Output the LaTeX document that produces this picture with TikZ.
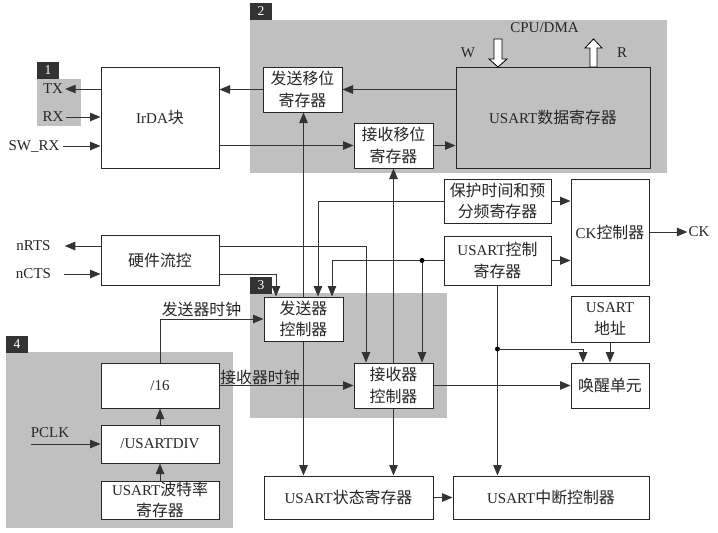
\documentclass[tikz,border=0pt]{standalone}
\usepackage{fontspec}
\setmainfont{Liberation Serif}
\newfontfamily\cjk[Scale=1.06]{Noto Sans CJK SC}
\usetikzlibrary{arrows.meta}
\newcommand\zh[1]{{\cjk #1}}
\definecolor{grayzone}{HTML}{C0C0C0}
\definecolor{tagdark}{HTML}{333333}
\begin{document}
\begin{tikzpicture}[x=1pt,y=-1pt,
  box/.style={draw=black!85, line width=1pt, fill=white, inner sep=0pt, align=center,
    font=\fontsize{15}{21.5}\selectfont, text=black!85},
  arr/.style={-{Triangle[length=10.5pt,width=8.5pt]}, line width=0.9pt, draw=black!80},
  tagbox/.style={fill=tagdark, text=white, inner sep=0pt, minimum width=22pt, minimum height=17pt,
    font=\fontsize{13.5}{13.5}\selectfont},
  lbl/.style={font=\fontsize{15}{16}\selectfont, inner sep=0pt, text=black!85}]
\useasboundingbox (0,0) rectangle (718,533);
\fill[white] (0,0) rectangle (718,533);
% gray zones
\fill[grayzone] (37,79) rectangle (81,126);
\fill[grayzone] (250,20) rectangle (667,173);
\fill[grayzone] (250,293) rectangle (447,418);
\fill[grayzone] (6,352) rectangle (233,528);
\node[tagbox] (t1) at (48,70.5) {1};
\node[tagbox] (t2) at (261,11.5) {2};
\node[tagbox] (t3) at (261,285) {3};
\node[tagbox] (t4) at (17,344) {4};
% boxes
\node[box, minimum width=118, minimum height=101] (irda) at (160,117.5) {IrDA\zh{块}};
\node[box, minimum width=79, minimum height=45] (txs) at (302.5,89.5) {\zh{发送移位}\\\zh{寄存器}};
\node[box, minimum width=79, minimum height=45] (rxs) at (393.5,145.5) {\zh{接收移位}\\\zh{寄存器}};
\node[box, fill=grayzone, minimum width=194, minimum height=101] (dr) at (553,117.5) {USART\zh{数据寄存器}};
\node[box, minimum width=107, minimum height=44] (gt) at (497.5,201) {\zh{保护时间和预}\\\zh{分频寄存器}};
\node[box, minimum width=107, minimum height=49] (cr) at (497.5,260.5) {USART\zh{控制}\\\zh{寄存器}};
\node[box, minimum width=78, minimum height=106] (ck) at (610,232) {CK\zh{控制器}};
\node[box, minimum width=118, minimum height=50] (hw) at (160,260) {\zh{硬件流控}};
\node[box, minimum width=79, minimum height=44] (tc) at (303.5,319) {\zh{发送器}\\\zh{控制器}};
\node[box, minimum width=79, minimum height=45] (rc) at (393.5,385.5) {\zh{接收器}\\\zh{控制器}};
\node[box, minimum width=78, minimum height=46] (addr) at (610,319) {USART\\\zh{地址}};
\node[box, minimum width=78, minimum height=45] (wk) at (610,385.5) {\zh{唤醒单元}};
\node[box, minimum width=118, minimum height=45] (d16) at (160,385.5) {/16};
\node[box, minimum width=118, minimum height=38] (div) at (160,444) {/USARTDIV};
\node[box, minimum width=118, minimum height=38] (brr) at (160,500) {USART\zh{波特率}\\\zh{寄存器}};
\node[box, minimum width=169, minimum height=43] (sr) at (348.5,497.5) {USART\zh{状态寄存器}};
\node[box, minimum width=196, minimum height=43] (ic) at (551,497.5) {USART\zh{中断控制器}};
% free labels
\node[lbl] (tx) at (53,89) {TX};
\node[lbl] (rx) at (53,117) {RX};
\node[lbl] (swrx) at (34,146) {SW\_RX};
\node[lbl] (nrts) at (33.5,246) {nRTS};
\node[lbl] (ncts) at (33.5,274) {nCTS};
\node[lbl] (pclk) at (50,433) {PCLK};
\node[lbl] (cpu) at (544.5,28) {CPU/DMA};
\node[lbl] (wlbl) at (468,53) {W};
\node[lbl] (rlbl) at (622,53) {R};
\node[lbl] (ckout) at (699,232) {CK};
\node[lbl] (txclk) at (201.5,309) {\zh{发送器时钟}};
\node[lbl] (rxclk) at (260,377) {\zh{接收器时钟}};
% hollow arrows
\draw[fill=white, line width=0.8pt] (494,39) -- (502,39) -- (502,59) -- (507,59) -- (498,67) -- (489,59) -- (494,59) -- cycle;
\draw[fill=white, line width=0.8pt] (590,67) -- (590,48) -- (585,48) -- (593.5,39) -- (602,48) -- (597,48) -- (597,67) -- cycle;
% connectors
\draw[arr] (dr.west |- txs.east) -- (txs.east);
\draw[arr] (txs.west) -- (irda.east |- txs.west);
\draw[arr] (irda.west |- tx.east) -- ([xshift=2pt]tx.east);
\draw[arr] ([xshift=2pt]rx.east) -- (irda.west |- rx.east);
\draw[arr] ([xshift=3pt]swrx.east) -- (irda.west |- swrx.east);
\draw[arr] (irda.east |- rxs.west) -- (rxs.west);
\draw[arr] (rxs.east) -- (dr.west |- rxs.east);
\draw[arr] (tc.north) -- (tc.north |- txs.south);
\draw[arr] (rc.north) -- (rc.north |- rxs.south);
\draw[arr] (tc.south) -- (tc.south |- sr.north);
\draw[arr] (rc.south) -- (rc.south |- sr.north);
\draw[arr] (gt.west) -| (318,0 |- tc.north);
\draw[arr] (cr.west) -| (332,0 |- tc.north);
\coordinate (j1) at (cr.west -| 422,0);
\draw[arr] (j1) -- (j1 |- rc.north);
\fill (j1) circle (2.5);
\draw[arr] (hw.east |- 0,246) -| (366,0 |- rc.north);
\draw[arr] (hw.east |- 0,274) -| (276,0 |- tc.north);
\draw[arr] (hw.west |- nrts.east) -- ([xshift=14pt]nrts.east);
\draw[arr] ([xshift=13pt]ncts.east) -- (hw.west |- ncts.east);
\draw[arr] (d16.north) |- (tc.west);
\draw[arr] (d16.east) -- (rc.west);
\draw[arr] (div.north) -- (d16.south);
\draw[arr] (brr.north) -- (div.south);
\draw[arr] (pclk.west |- div.west) -- (div.west);
\draw[arr] (rc.east) -- (wk.west);
\draw[arr] (addr.south) -- (wk.north);
\draw[arr] (cr.south) -- (cr.south |- ic.north);
\coordinate (j2) at (cr.south |- 0,349);
\fill (j2) circle (2.5);
\draw[arr] (j2) -| (583,0 |- wk.north);
\draw[arr] (sr.east) -- (ic.west);
\draw[arr] (gt.east) -- (ck.west |- gt.east);
\draw[arr] (cr.east) -- (ck.west |- cr.east);
\draw[arr] (ck.east) -- ([xshift=-1pt]ckout.west);
\end{tikzpicture}
\end{document}
